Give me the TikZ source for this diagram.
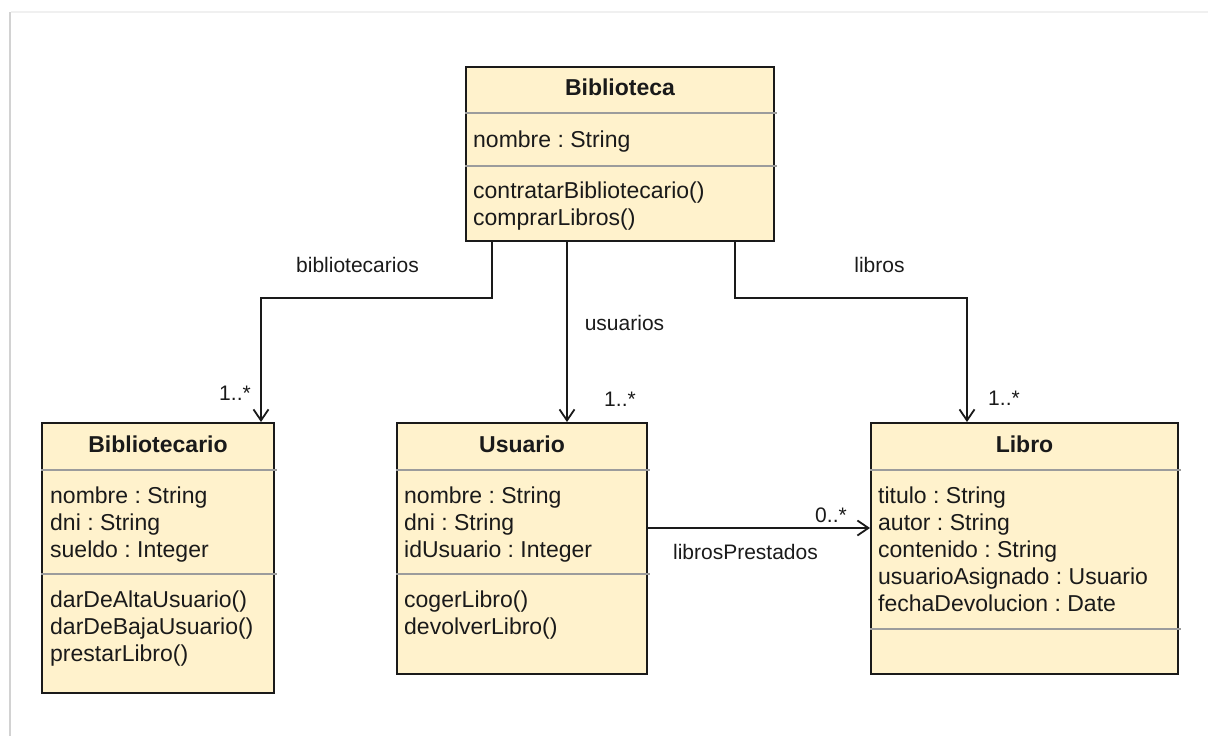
\documentclass[tikz,border=0pt]{standalone}
\usepackage{fontspec}
\setmainfont{Liberation Sans}
\usetikzlibrary{arrows.meta}
\frenchspacing
\definecolor{classfill}{HTML}{FFF2CC}
\definecolor{ink}{HTML}{1A1A1A}
\definecolor{sepgray}{HTML}{9C9C9C}
\tikzset{
  classbox/.style={draw=ink, line width=2pt, fill=classfill, inner sep=0pt},
  sepline/.style={draw=sepgray, line width=2pt},
  txt/.style={anchor=base west, inner sep=0pt, text=ink, font=\fontsize{23}{27}\selectfont},
  title/.style={anchor=base, inner sep=0pt, text=ink, font=\fontsize{23}{27}\selectfont\bfseries},
  lbl/.style={anchor=base, inner sep=0pt, text=ink, font=\fontsize{21}{25}\selectfont},
  assoc/.style={draw=ink, line width=1.8pt, -{Straight Barb[length=11pt,width=15pt,line width=1.8pt]}},
  pageedge/.style={line width=2.5pt}
}
\begin{document}
\begin{tikzpicture}[x=1pt,y=-1pt]
\useasboundingbox (0,0) rectangle (1208,736);
% sheet edge
\draw[pageedge, gray!12] (11,12) -- (1208,12);
\draw[pageedge, gray!35] (10,12) -- (10,736);

% ---- classes ----
\node[classbox, minimum width=308pt, minimum height=174pt] (bib) at (620,154) {};
\node[classbox, minimum width=232pt, minimum height=270pt] (bcario) at (158,558) {};
\node[classbox, minimum width=250pt, minimum height=251pt] (usr) at (522,548.5) {};
\node[classbox, minimum width=307pt, minimum height=251pt] (libro) at (1024.5,548.5) {};

% compartment separators
\draw[sepline] (bib.west |- 0,113) -- (777,113);
\draw[sepline] (bib.west |- 0,166) -- (777,166);
\draw[sepline] (bcario.west |- 0,470) -- (277,470);
\draw[sepline] (bcario.west |- 0,574) -- (277,574);
\draw[sepline] (usr.west |- 0,470) -- (650,470);
\draw[sepline] (usr.west |- 0,574) -- (650,574);
\draw[sepline] (libro.west |- 0,470) -- (1181,470);
\draw[sepline] (libro.west |- 0,629) -- (1181,629);

% Biblioteca
\node[title] (bibT) at (620,95) {Biblioteca};
\node[txt] (bibA1) at (473,147) {nombre : String};
\foreach \t [count=\i] in {contratarBibliotecario(), comprarLibros()}
  \node[txt] (bibM\i) at (473,{198+27*(\i-1)}) {\t};

% Bibliotecario
\node[title] (bcarioT) at (158,452) {Bibliotecario};
\foreach \t [count=\i] in {nombre : String, dni : String, sueldo : Integer}
  \node[txt] (bcarioA\i) at (50,{503+27*(\i-1)}) {\t};
\foreach \t [count=\i] in {darDeAltaUsuario(), darDeBajaUsuario(), prestarLibro()}
  \node[txt] (bcarioM\i) at (50,{607+27*(\i-1)}) {\t};

% Usuario
\node[title] (usrT) at (522,452) {Usuario};
\foreach \t [count=\i] in {nombre : String, dni : String, idUsuario : Integer}
  \node[txt] (usrA\i) at (404,{503+27*(\i-1)}) {\t};
\foreach \t [count=\i] in {cogerLibro(), devolverLibro()}
  \node[txt] (usrM\i) at (404,{607+27*(\i-1)}) {\t};

% Libro
\node[title] (libroT) at (1024.5,452) {Libro};
\foreach \t [count=\i] in {titulo : String, autor : String, contenido : String, usuarioAsignado : Usuario, fechaDevolucion : Date}
  \node[txt] (libroA\i) at (878,{503+27*(\i-1)}) {\t};

% ---- associations ----
\coordinate (kB) at (261,298);
\coordinate (kU) at (567,0);
\coordinate (kL) at (967,298);
\coordinate (kP) at (0,528);
\draw[assoc] ([xshift=27pt]bib.south west) |- (kB) -- (kB |- bcario.north);
\draw[assoc] (kU |- bib.south) -- (kU |- usr.north);
\draw[assoc] ([xshift=270pt]bib.south west) |- (kL) -- (kL |- libro.north);
\draw[assoc] (usr.east |- kP) -- (libro.west |- kP);

% role names and multiplicities
\node[lbl] (lBib) at (357.5,272) {bibliotecarios};
\node[lbl] (mBib) at (235,400) {1..*};
\node[lbl] (lUsr) at (624.5,330) {usuarios};
\node[lbl] (mUsr) at (620,406) {1..*};
\node[lbl] (lLib) at (879.5,272) {libros};
\node[lbl] (mLib) at (1004,405) {1..*};
\node[lbl] (mPre) at (831,522) {0..*};
\node[lbl] (lPre) at (745.5,559) {librosPrestados};
\end{tikzpicture}
\end{document}
